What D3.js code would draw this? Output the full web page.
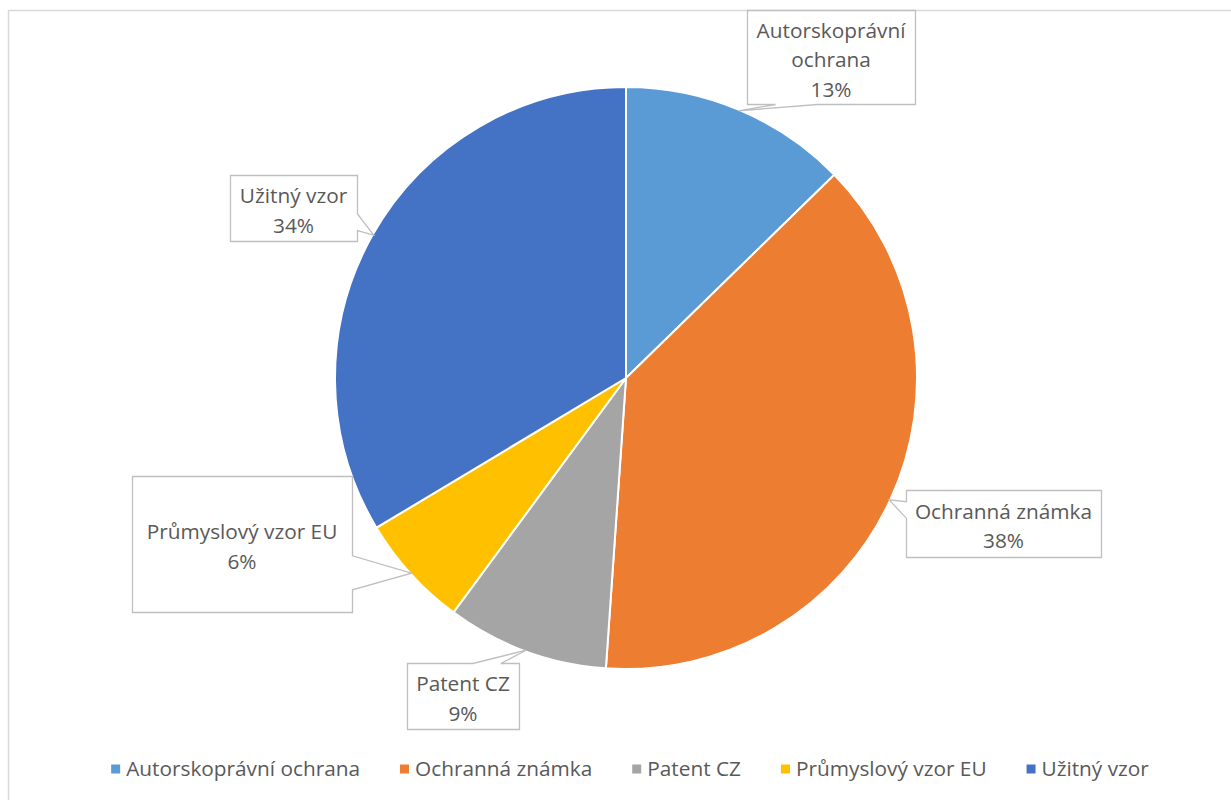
<!DOCTYPE html>
<html>
<head>
<meta charset="utf-8">
<script src="https://cdn.jsdelivr.net/npm/d3@7"></script>
<style>
  body { margin: 0; background: #fff; }
  text { font-family: "Open Sans", Lato, sans-serif; fill: #595959; }
</style>
</head>
<body>
<div id="chart"></div>
<script>
// data
var categories = ["Autorskoprávní ochrana", "Ochranná známka", "Patent CZ", "Průmyslový vzor EU", "Užitný vzor"];
var shares = [12.7, 38.4, 9.0, 6.3, 33.6];
var colors = ["#5B9BD5", "#ED7D31", "#A5A5A5", "#FFC000", "#4472C4"];
var labelNames = [["Autorskoprávní", "ochrana"], ["Ochranná známka"], ["Patent CZ"], ["Průmyslový vzor EU"], ["Užitný vzor"]];

var svgWidth = 1231;
var svgHeight = 800;
var cx = 626, cy = 378, radius = 291;
var fontSize = 20.8;
var lineH = 29.5;

// callout boxes (x, y, w, h) as placed in the original
var labelBoxes = [
    [747, 10, 168, 94],
    [906, 490, 195, 67],
    [407, 663, 112, 66],
    [132, 476, 220, 136],
    [230, 175, 127, 66]
];

var svg = d3.select("#chart")
    .append("svg")
    .attr("width", svgWidth)
    .attr("height", svgHeight);

// chart area border
svg.append("rect")
    .attr("x", 8.5)
    .attr("y", 10.5)
    .attr("width", 1240)
    .attr("height", 800)
    .attr("fill", "none")
    .attr("stroke", "#d9d9d9")
    .attr("stroke-width", 1.5);

var total = d3.sum(shares);
var pct = d3.format(".0%");

var pie = d3.pie().sort(null).value(d => d)(shares);
var arc = d3.arc().innerRadius(0).outerRadius(radius);
var edge = d3.arc().innerRadius(radius - 1).outerRadius(radius - 1);

var pieGroup = svg.append("g")
    .attr("transform", `translate(${cx}, ${cy})`);

// callout with a wedge pointing at the slice (like Excel's wedgeRectCallout)
function callout(b, tx, ty) {
    var x0 = b[0] + 0.5, y0 = b[1] + 0.5, w = b[2], h = b[3];
    var dx = (tx - (x0 + w / 2)) / w;
    var dy = (ty - (y0 + h / 2)) / h;
    var p = d3.path();
    if (Math.abs(dx) > Math.abs(dy)) {
        var y1 = y0 + h * (dy > 0 ? 7 : 2) / 12;
        var y2 = y0 + h * (dy > 0 ? 10 : 5) / 12;
        p.moveTo(x0, y0);
        p.lineTo(x0 + w, y0);
        if (dx > 0) { p.lineTo(x0 + w, y1); p.lineTo(tx, ty); p.lineTo(x0 + w, y2); }
        p.lineTo(x0 + w, y0 + h);
        p.lineTo(x0, y0 + h);
        if (dx < 0) { p.lineTo(x0, y2); p.lineTo(tx, ty); p.lineTo(x0, y1); }
        p.closePath();
    } else {
        var x1 = x0 + w * (dx > 0 ? 7 : 2) / 12;
        var x2 = x0 + w * (dx > 0 ? 10 : 5) / 12;
        p.moveTo(x0, y0);
        if (dy < 0) { p.lineTo(x1, y0); p.lineTo(tx, ty); p.lineTo(x2, y0); }
        p.lineTo(x0 + w, y0);
        p.lineTo(x0 + w, y0 + h);
        if (dy > 0) { p.lineTo(x2, y0 + h); p.lineTo(tx, ty); p.lineTo(x1, y0 + h); }
        p.lineTo(x0, y0 + h);
        p.closePath();
    }
    return p.toString();
}

// callouts under the pie so the tips tuck in at the edge
var labels = svg.append("g");
pie.forEach(function(d, i) {
    var tip = edge.centroid(d);
    var b = labelBoxes[i];
    labels.append("path")
        .attr("d", callout(b, tip[0] + cx, tip[1] + cy))
        .attr("fill", "#fff")
        .attr("stroke", "#bfbfbf")
        .attr("stroke-width", 1.3);

    var lines = labelNames[i].concat([pct(shares[i] / total)]);
    var midY = b[1] + b[3] / 2 + 3;
    var t = labels.append("text")
        .attr("text-anchor", "middle")
        .style("font-size", fontSize + "px");
    lines.forEach(function(s, k) {
        t.append("tspan")
            .attr("x", b[0] + b[2] / 2)
            .attr("y", midY + (k - (lines.length - 1) / 2) * lineH + 7)
            .text(s);
    });
});

// slices
pieGroup.selectAll("path")
    .data(pie)
    .enter()
    .append("path")
    .attr("d", arc)
    .attr("fill", (d, i) => colors[i])
    .attr("stroke", "#fff")
    .attr("stroke-width", 2)
    .attr("stroke-linejoin", "round");

// legend
var legend = svg.append("g");
var items = legend.selectAll("g")
    .data(categories)
    .enter()
    .append("g");
items.append("rect")
    .attr("width", 9)
    .attr("height", 9)
    .attr("y", -4.5)
    .attr("fill", (d, i) => colors[i]);
items.append("text")
    .attr("x", 15)
    .attr("y", 7)
    .style("font-size", fontSize + "px")
    .text(d => d);

var xPos = 0;
var offsets = [];
items.each(function() {
    offsets.push(xPos);
    xPos += 15 + this.querySelector("text").getComputedTextLength() + 40;
});
var legendW = xPos - 40;
items.attr("transform", (d, i) => `translate(${offsets[i]}, 0)`);
legend.attr("transform", `translate(${630 - legendW / 2}, 769)`);
</script>
</body>
</html>
